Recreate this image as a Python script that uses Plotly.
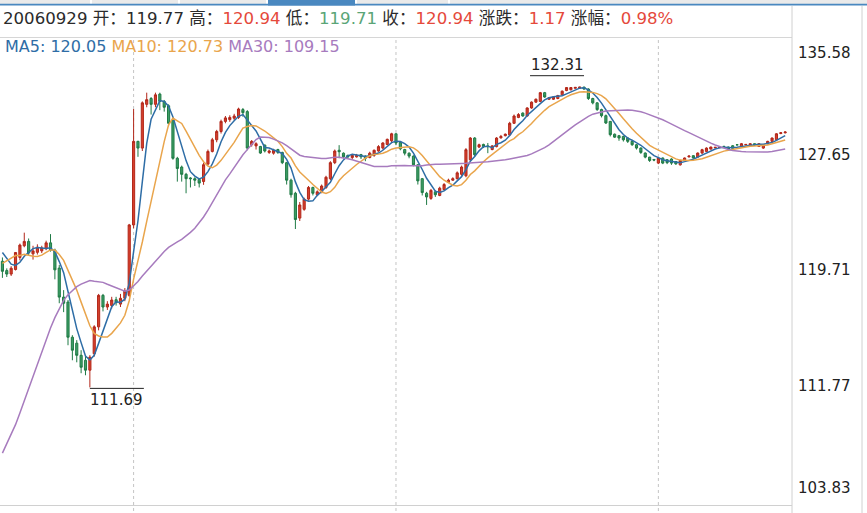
import plotly.graph_objects as go
import pandas as pd

# ---------------- data ----------------
# closes before the visible window (needed for the moving averages only)
prior_closes = [100.9, 100.6, 100.3, 97.5, 96.4, 96.2, 95.8, 95.6, 96.0, 96.35,
                97.5, 98.6, 99.4, 100.3, 103.5, 105.0, 106.5, 107.9, 109.0, 110.2,
                117.5, 118.5, 118.96, 121.35, 121.0, 121.5, 121.8, 121.4, 120.34]

opens = [
    120.34, 119.7, 119.46, 119.77, 120.6, 121.4, 121.7, 120.85, 120.95, 121.05,
    121.2, 121.6, 121.1, 119.87, 117.88, 117.54, 115.13, 114.72, 113.89, 113.55,
    112.87, 114.0, 115.84, 118.0, 117.2, 117.3, 117.7, 117.4, 117.8, 118.0,
    122.83, 128.56, 128.1, 131.1, 131.5, 131.1, 131.8, 131.3, 131.0, 130.0,
    127.4, 126.8, 126.3, 126.05, 126.0, 125.95, 125.81, 127.0, 127.87, 128.67,
    129.24, 129.93, 130.05, 130.15, 130.2, 130.74, 130.6, 128.33, 128.25, 128.21,
    128.3, 127.8, 127.75, 128.0, 127.8, 127.1, 125.9, 125.0, 123.3, 123.9,
    124.6, 125.4, 124.9, 125.1, 125.4, 126.0, 127.1, 127.95, 127.75, 127.6,
    127.45, 127.5, 127.65, 127.55, 127.45, 127.6, 127.9, 128.1, 128.35, 128.6,
    129.08, 128.5, 128.0, 127.75, 127.55, 126.95, 126.0, 125.0, 124.65, 125.1,
    124.85, 125.25, 125.75, 125.9, 126.0, 126.3, 126.2, 127.3, 128.79, 128.17,
    128.35, 128.25, 128.0, 128.2, 128.8, 128.95, 129.0, 129.8, 130.2, 130.5,
    130.3, 130.85, 131.25, 131.3, 131.9, 131.45, 131.45, 131.5, 131.75, 132.05,
    132.1, 132.2, 132.22, 132.28, 132.15, 131.5, 131.2, 130.74, 130.32, 129.93,
    129.05, 128.95, 128.9, 128.79, 128.56, 128.33, 128.1, 127.76, 127.48, 127.32,
    127.07, 127.42, 127.3, 127.35, 127.18, 126.95, 127.25, 127.5, 127.58, 127.48,
    127.76, 127.87, 128.03, 128.12, 128.13, 128.22, 128.17, 128.26, 128.33, 128.21,
    128.32, 128.26, 128.4, 128.21, 128.1, 128.4, 128.56, 128.67, 129.1, 129.15,
]

highs = [
    120.6, 119.85, 120.0, 120.94, 121.55, 122.3, 121.9, 121.4, 121.5, 121.4,
    121.75, 122.2, 121.2, 120.08, 118.36, 117.68, 115.27, 114.93, 114.24, 113.83,
    113.9, 115.95, 118.1, 118.1, 117.6, 117.9, 117.9, 118.1, 118.5, 122.9,
    130.78, 128.6, 131.3, 131.9, 131.6, 131.9, 131.9, 131.4, 131.1, 130.1,
    127.5, 126.9, 126.4, 126.1, 126.1, 126.0, 127.1, 128.0, 128.8, 129.35,
    130.05, 130.3, 130.35, 130.45, 130.87, 130.85, 130.7, 128.65, 128.5, 128.25,
    128.35, 128.0, 128.05, 128.05, 127.85, 127.15, 126.0, 125.1, 124.4, 124.7,
    125.5, 125.45, 125.2, 125.6, 126.2, 127.2, 128.0, 128.3, 127.8, 127.65,
    127.7, 127.7, 127.7, 127.6, 127.85, 128.0, 128.3, 128.5, 128.75, 129.15,
    129.1, 128.55, 128.05, 127.8, 127.6, 127.0, 126.05, 125.1, 125.3, 125.2,
    125.45, 125.7, 126.0, 126.1, 126.5, 126.9, 128.1, 128.85, 128.85, 128.4,
    128.4, 128.45, 128.3, 128.85, 129.0, 129.1, 129.9, 130.4, 130.5, 130.55,
    130.9, 131.3, 131.5, 131.95, 131.95, 131.6, 131.65, 131.75, 132.05, 132.28,
    132.28, 132.29, 132.3, 132.31, 132.2, 131.55, 131.25, 130.8, 130.4, 129.95,
    129.1, 129.0, 128.95, 128.85, 128.6, 128.38, 128.15, 127.8, 127.5, 127.35,
    127.45, 127.45, 127.35, 127.4, 127.2, 127.3, 127.45, 127.6, 127.6, 127.8,
    128.05, 128.15, 128.2, 128.18, 128.2, 128.25, 128.2, 128.3, 128.35, 128.45,
    128.38, 128.42, 128.42, 128.42, 128.35, 128.6, 128.82, 129.12, 129.2, 129.25,
]

lows = [
    119.2, 119.26, 119.33, 119.71, 120.4, 121.3, 120.7, 120.45, 120.8, 120.9,
    121.1, 121.0, 119.1, 117.46, 116.85, 114.58, 113.55, 113.41, 112.66, 112.52,
    111.69, 113.8, 115.6, 116.9, 117.0, 117.1, 117.3, 117.2, 117.6, 117.9,
    122.6, 127.5, 127.9, 130.9, 130.4, 130.9, 130.7, 130.6, 129.6, 127.3,
    125.8, 125.8, 125.0, 125.4, 125.5, 125.4, 125.58, 126.9, 127.8, 128.5,
    129.1, 129.8, 129.9, 130.0, 130.1, 130.25, 127.95, 128.2, 128.0, 127.7,
    127.8, 127.7, 127.65, 127.7, 127.0, 125.6, 124.7, 122.55, 123.1, 123.8,
    124.5, 124.85, 124.8, 125.0, 125.3, 125.9, 127.0, 127.4, 127.4, 127.4,
    127.35, 127.45, 127.35, 127.2, 127.4, 127.5, 127.85, 128.0, 128.3, 128.5,
    128.3, 127.95, 127.6, 127.4, 126.85, 125.6, 124.85, 124.2, 124.55, 124.75,
    124.8, 125.2, 125.7, 125.85, 125.95, 126.2, 126.1, 127.2, 127.5, 128.1,
    128.1, 127.75, 127.95, 128.15, 128.75, 128.9, 128.95, 129.75, 130.15, 130.25,
    130.25, 130.8, 131.2, 131.25, 131.55, 131.4, 131.4, 131.45, 131.7, 132.0,
    132.05, 132.18, 132.2, 132.1, 131.4, 131.1, 130.65, 130.2, 129.75, 128.9,
    128.8, 128.6, 128.55, 128.45, 128.25, 128.0, 127.7, 127.4, 127.15, 127.2,
    127.0, 127.0, 127.0, 126.95, 126.95, 126.9, 127.2, 127.45, 127.38, 127.45,
    127.7, 127.85, 128.0, 128.1, 128.1, 128.15, 128.0, 128.05, 128.3, 128.18,
    128.3, 128.22, 128.25, 128.18, 128.05, 128.35, 128.5, 128.6, 129.05, 129.1,
]

closes = [
    119.65, 119.46, 119.86, 120.94, 121.45, 121.7, 120.9, 121.05, 121.3, 121.25,
    121.6, 121.1, 119.75, 117.88, 117.46, 115.13, 114.24, 113.89, 113.07, 112.87,
    113.76, 115.84, 118.0, 117.2, 117.4, 117.68, 117.5, 117.8, 118.3, 122.83,
    128.56, 128.1, 131.2, 131.42, 131.1, 131.75, 131.3, 130.9, 129.8, 127.4,
    126.7, 126.3, 126.0, 126.0, 125.9, 125.7, 126.96, 127.87, 128.67, 129.24,
    129.93, 130.17, 130.2, 130.3, 130.78, 130.53, 128.1, 128.56, 128.4, 127.76,
    127.9, 127.9, 127.95, 127.8, 127.1, 125.9, 124.9, 123.2, 124.2, 124.6,
    125.4, 125.0, 125.1, 125.5, 126.1, 127.1, 127.9, 127.85, 127.5, 127.5,
    127.6, 127.6, 127.5, 127.4, 127.75, 127.95, 128.2, 128.45, 128.7, 129.08,
    128.45, 128.05, 127.75, 127.55, 126.95, 125.85, 125.05, 124.75, 125.2, 124.9,
    125.35, 125.6, 125.9, 126.0, 126.4, 126.8, 127.99, 128.79, 127.64, 128.33,
    128.2, 128.2, 128.25, 128.79, 128.9, 129.05, 129.8, 130.3, 130.4, 130.3,
    130.85, 131.25, 131.45, 131.9, 131.6, 131.55, 131.6, 131.7, 132.0, 132.25,
    132.25, 132.26, 132.28, 132.15, 131.5, 131.2, 130.74, 130.32, 129.82, 129.02,
    128.85, 128.79, 128.67, 128.56, 128.33, 128.1, 127.8, 127.48, 127.25, 127.28,
    127.42, 127.07, 127.1, 127.07, 127.02, 127.25, 127.42, 127.55, 127.42, 127.76,
    127.99, 128.1, 128.17, 128.15, 128.16, 128.2, 128.03, 128.08, 128.32, 128.4,
    128.35, 128.4, 128.3, 128.4, 128.33, 128.56, 128.79, 129.08, 129.15, 129.2,
]

y_ticks = [135.58, 127.65, 119.71, 111.77, 103.83]
y_tick_labels = ["135.58", "127.65", "119.71", "111.77", "103.83"]
grid_candles = [30, 90, 150]
ma_periods = [5, 10, 30]
ma_colors = ["#2E6DA6", "#E9A54C", "#A77BBE"]

header_date = "20060929"
header_open, header_high, header_low, header_close = "119.77", "120.94", "119.71", "120.94"
header_chg, header_pct = "1.17", "0.98%"
legend_ma_values = ["120.05", "120.73", "109.15"]

# ---------------- figure geometry ----------------
W, H = 867, 513
ML, MR, MT, MB = 0, 76, 39, 11
PW, PH = W - ML - MR, H - MT - MB
XMIN, XMAX = -0.55, 180.33
YMIN, YMAX = 103.83, 135.58


def pxx(px):
    return (px - ML) / PW


def pxy(py):
    return (H - MB - py) / PH


def dx_px(px):
    return px * (XMAX - XMIN) / PW


def dy_px(px):
    return px * (YMAX - YMIN) / PH


idx = list(range(len(closes)))
all_closes = pd.Series(prior_closes + closes)
n_prior = len(prior_closes)

fig = go.Figure()
fig.add_trace(go.Candlestick(
    x=idx, open=opens, high=highs, low=lows, close=closes,
    increasing=dict(line=dict(color="#B2271A", width=1), fillcolor="#D6402C"),
    decreasing=dict(line=dict(color="#1F7A45", width=1), fillcolor="#3E9E66"),
    whiskerwidth=0, hoverinfo="skip", showlegend=False,
))
for p, c in zip(ma_periods, ma_colors):
    ma = all_closes.rolling(p).mean().tolist()[n_prior:]
    fig.add_trace(go.Scatter(x=idx, y=ma, mode="lines",
                             line=dict(color=c, width=1.5),
                             hoverinfo="skip", showlegend=False))

shapes = []
# top tab strip
tabs = [(0, 90), (92, 178), (180, 266), (357, 448), (450, 867)]
for a, b in tabs:
    shapes.append(dict(type="rect", xref="paper", yref="paper",
                       x0=pxx(a), x1=pxx(b), y0=pxy(0), y1=pxy(4),
                       fillcolor="#EAEAEA", line=dict(width=0), layer="above"))
shapes.append(dict(type="rect", xref="paper", yref="paper",
                   x0=pxx(268), x1=pxx(355), y0=pxy(0), y1=pxy(5.5),
                   fillcolor="#4A88C0", line=dict(width=0), layer="above"))
shapes.append(dict(type="rect", xref="paper", yref="paper",
                   x0=pxx(0), x1=pxx(867), y0=pxy(3.8), y1=pxy(5.6),
                   fillcolor="#4A88C0", line=dict(width=0), layer="above"))
# header separator
shapes.append(dict(type="line", xref="paper", yref="paper",
                   x0=pxx(0), x1=pxx(792), y0=pxy(37.5), y1=pxy(37.5),
                   line=dict(color="#D6D6D6", width=1)))
# vertical border between chart and axis, and right edge
for xx in (792, 862):
    shapes.append(dict(type="line", xref="paper", yref="paper",
                       x0=pxx(xx), x1=pxx(xx), y0=pxy(6), y1=pxy(513),
                       line=dict(color="#D0D0D0", width=1)))
# bottom line
shapes.append(dict(type="line", xref="paper", yref="paper",
                   x0=pxx(0), x1=pxx(792), y0=pxy(505.5), y1=pxy(505.5),
                   line=dict(color="#D0D0D0", width=1)))
# dotted vertical grid
for g in grid_candles:
    gx = (g - XMIN) / (XMAX - XMIN)
    shapes.append(dict(type="line", xref="paper", yref="paper",
                       x0=gx, x1=gx, y0=pxy(40), y1=pxy(513),
                       line=dict(color="#C4C4C4", width=1, dash="dot"), layer="below"))

# min / max markers
lo_i = min(idx, key=lambda i: lows[i])
hi_i = max(idx, key=lambda i: highs[i])
shapes.append(dict(type="line", xref="x", yref="y",
                   x0=lo_i, x1=lo_i + dx_px(54), y0=lows[lo_i] - dy_px(1), y1=lows[lo_i] - dy_px(1),
                   line=dict(color="#222222", width=1)))
shapes.append(dict(type="line", xref="x", yref="y",
                   x0=hi_i - dx_px(54), x1=hi_i, y0=highs[hi_i] + dy_px(11), y1=highs[hi_i] + dy_px(11),
                   line=dict(color="#222222", width=1)))

annotations = []
FONT = "DejaVu Sans, Noto Sans CJK SC, sans-serif"
annotations.append(dict(xref="x", yref="y", x=lo_i + dx_px(27), y=lows[lo_i] - dy_px(1),
                        text=f"{lows[lo_i]:.2f}", showarrow=False, xanchor="center", yanchor="top",
                        yshift=-1, font=dict(family=FONT, size=15, color="#222222")))
annotations.append(dict(xref="x", yref="y", x=hi_i - dx_px(27), y=highs[hi_i] + dy_px(11),
                        text=f"{highs[hi_i]:.2f}", showarrow=False, xanchor="center", yanchor="bottom",
                        yshift=0, font=dict(family=FONT, size=15, color="#222222")))

# y axis labels on the right
for i, (v, t) in enumerate(zip(y_ticks, y_tick_labels)):
    shift = 0
    if i == 0:
        shift = -13.5
    elif i == len(y_ticks) - 1:
        shift = 14
    annotations.append(dict(xref="paper", yref="y", x=pxx(796), y=v, text=t,
                            showarrow=False, xanchor="left", yanchor="middle", yshift=shift,
                            font=dict(family=FONT, size=15, color="#222222")))

RED, GREEN, DARK = "#E5493B", "#5AA577", "#2B2B2B"


def col(t, c):
    return f"<span style='color:{c}'>{t}</span>"


header = (f"{header_date} 开：{header_open} 高：{col(header_high, RED)} "
          f"低：{col(header_low, GREEN)} 收：{col(header_close, RED)} "
          f"涨跌：{col(header_chg, RED)} 涨幅：{col(header_pct, RED)}")
annotations.append(dict(xref="paper", yref="paper", x=pxx(1), y=pxy(19), text=header,
                        showarrow=False, xanchor="left", yanchor="middle",
                        font=dict(family=FONT, size=16.6, color=DARK)))
legend = " ".join(col(f"MA{p}: {v}", c) for p, v, c in zip(ma_periods, legend_ma_values, ma_colors))
annotations.append(dict(xref="paper", yref="paper", x=pxx(3), y=pxy(46.5), text=legend,
                        showarrow=False, xanchor="left", yanchor="middle",
                        font=dict(family=FONT, size=16)))

fig.update_layout(
    width=W, height=H,
    margin=dict(l=ML, r=MR, t=MT, b=MB),
    paper_bgcolor="white", plot_bgcolor="white",
    xaxis=dict(range=[XMIN, XMAX], visible=False, showgrid=False, zeroline=False,
               rangeslider=dict(visible=False), fixedrange=True),
    yaxis=dict(range=[YMIN, YMAX], visible=False, showgrid=False, zeroline=False, fixedrange=True),
    shapes=shapes, annotations=annotations,
    showlegend=False, hovermode=False,
)

fig.write_html("out.html", config={"displayModeBar": False},
               post_script="document.body.style.margin='0px';document.body.style.overflow='hidden';")
